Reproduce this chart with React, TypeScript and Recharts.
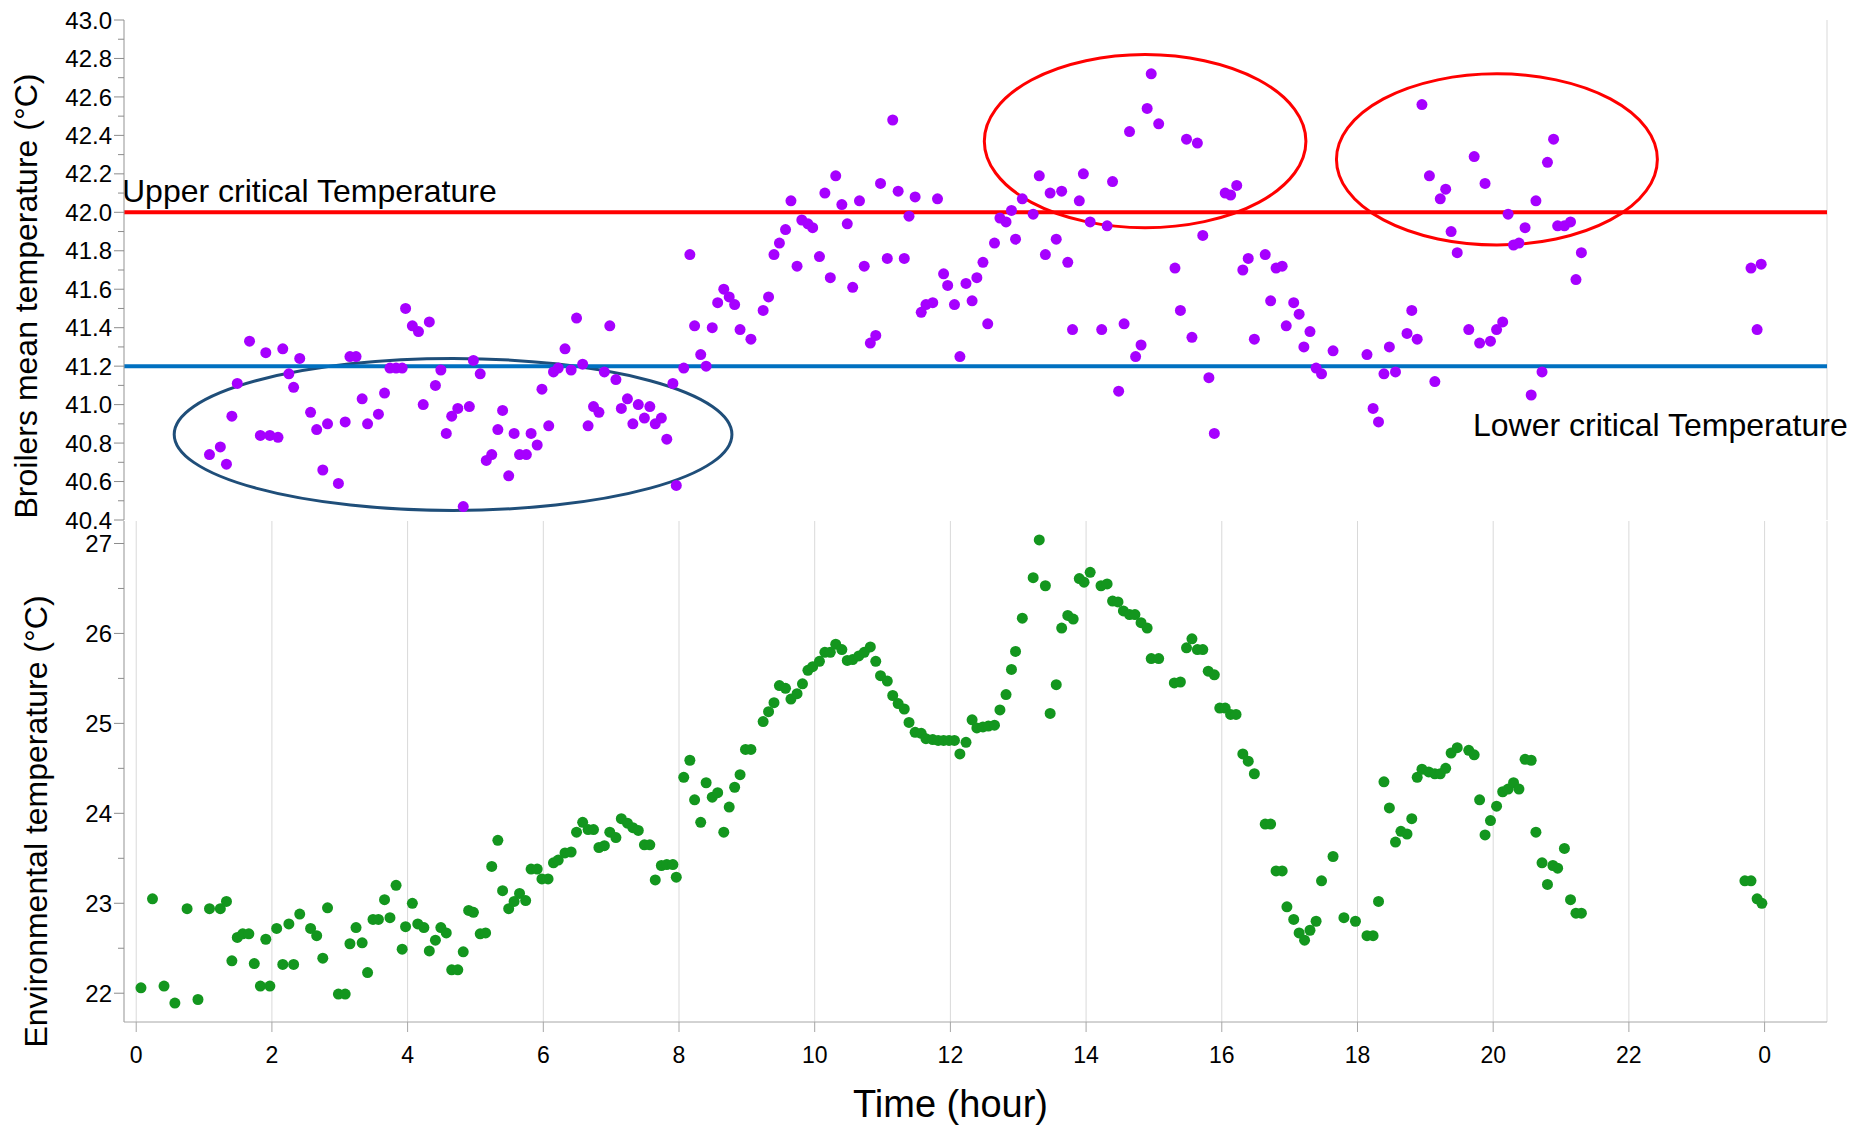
import React from 'react';
import {
  ScatterChart,
  Scatter,
  XAxis,
  YAxis,
  CartesianGrid,
  ReferenceLine,
  ReferenceArea,
} from 'recharts';

// broiler mean temperature, [hour, °C]
const broilerPoints: [number, number][] = [
  [1.08, 40.74], [1.24, 40.78], [1.33, 40.69], [1.41, 40.94], [1.49, 41.11], [1.67, 41.33], [1.83, 40.84], [1.91, 41.27],
  [1.97, 40.84], [2.09, 40.83], [2.16, 41.29], [2.25, 41.16], [2.32, 41.09], [2.41, 41.24], [2.57, 40.96], [2.66, 40.87],
  [2.75, 40.66], [2.82, 40.9], [2.98, 40.59], [3.08, 40.91], [3.15, 41.25], [3.24, 41.25], [3.33, 41.03], [3.41, 40.9],
  [3.57, 40.95], [3.66, 41.06], [3.74, 41.19], [3.83, 41.19], [3.92, 41.19], [3.97, 41.5], [4.07, 41.41], [4.16, 41.38],
  [4.23, 41.0], [4.32, 41.43], [4.41, 41.1], [4.49, 41.18], [4.57, 40.85], [4.65, 40.94], [4.74, 40.98], [4.82, 40.47],
  [4.91, 40.99], [4.97, 41.23], [5.07, 41.16], [5.16, 40.71], [5.24, 40.74], [5.33, 40.87], [5.4, 40.97], [5.49, 40.63],
  [5.57, 40.85], [5.65, 40.74], [5.75, 40.74], [5.82, 40.85], [5.91, 40.79], [5.98, 41.08], [6.08, 40.89], [6.15, 41.17],
  [6.22, 41.19], [6.32, 41.29], [6.41, 41.18], [6.49, 41.45], [6.58, 41.21], [6.66, 40.89], [6.74, 40.99], [6.82, 40.96],
  [6.9, 41.17], [6.98, 41.41], [7.07, 41.13], [7.15, 40.98], [7.24, 41.03], [7.32, 40.9], [7.4, 41.0], [7.49, 40.93],
  [7.57, 40.99], [7.65, 40.9], [7.74, 40.93], [7.82, 40.82], [7.91, 41.11], [7.96, 40.58], [8.07, 41.19], [8.16, 41.78],
  [8.23, 41.41], [8.32, 41.26], [8.4, 41.2], [8.49, 41.4], [8.57, 41.53], [8.66, 41.6], [8.74, 41.56], [8.82, 41.52],
  [8.9, 41.39], [9.06, 41.34], [9.24, 41.49], [9.32, 41.56], [9.4, 41.78], [9.48, 41.84], [9.57, 41.91], [9.65, 42.06],
  [9.74, 41.72], [9.81, 41.96], [9.9, 41.94], [9.97, 41.92], [10.07, 41.77], [10.15, 42.1], [10.23, 41.66], [10.31, 42.19],
  [10.4, 42.04], [10.48, 41.94], [10.56, 41.61], [10.66, 42.06], [10.73, 41.72], [10.82, 41.32], [10.9, 41.36], [10.97, 42.15],
  [11.07, 41.76], [11.15, 42.48], [11.23, 42.11], [11.32, 41.76], [11.39, 41.98], [11.48, 42.08], [11.57, 41.48], [11.64, 41.52],
  [11.74, 41.53], [11.81, 42.07], [11.9, 41.68], [11.96, 41.62], [12.06, 41.52], [12.14, 41.25], [12.23, 41.63], [12.32, 41.54],
  [12.39, 41.66], [12.48, 41.74], [12.55, 41.42], [12.65, 41.84], [12.73, 41.97], [12.82, 41.95], [12.9, 42.01], [12.96, 41.86],
  [13.06, 42.07], [13.22, 41.99], [13.31, 42.19], [13.4, 41.78], [13.47, 42.1], [13.56, 41.86], [13.64, 42.11], [13.73, 41.74],
  [13.8, 41.39], [13.9, 42.06], [13.96, 42.2], [14.06, 41.95], [14.23, 41.39], [14.31, 41.93], [14.39, 42.16], [14.48, 41.07],
  [14.56, 41.42], [14.64, 42.42], [14.73, 41.25], [14.81, 41.31], [14.9, 42.54], [14.96, 42.72], [15.07, 42.46], [15.31, 41.71],
  [15.39, 41.49], [15.48, 42.38], [15.56, 41.35], [15.64, 42.36], [15.72, 41.88], [15.81, 41.14], [15.89, 40.85], [16.05, 42.1],
  [16.13, 42.09], [16.22, 42.14], [16.31, 41.7], [16.39, 41.76], [16.48, 41.34], [16.64, 41.78], [16.72, 41.54], [16.8, 41.71],
  [16.89, 41.72], [16.95, 41.41], [17.06, 41.53], [17.14, 41.47], [17.21, 41.3], [17.3, 41.38], [17.39, 41.19], [17.47, 41.16],
  [17.64, 41.28], [18.14, 41.26], [18.23, 40.98], [18.31, 40.91], [18.39, 41.16], [18.47, 41.3], [18.56, 41.17], [18.73, 41.37],
  [18.8, 41.49], [18.88, 41.34], [18.95, 42.56], [19.06, 42.19], [19.14, 41.12], [19.22, 42.07], [19.3, 42.12], [19.38, 41.9],
  [19.47, 41.79], [19.64, 41.39], [19.72, 42.29], [19.8, 41.32], [19.88, 42.15], [19.96, 41.33], [20.05, 41.39], [20.14, 41.43],
  [20.22, 41.99], [20.3, 41.83], [20.38, 41.84], [20.47, 41.92], [20.56, 41.05], [20.63, 42.06], [20.72, 41.17], [20.8, 42.26],
  [20.89, 42.38], [20.95, 41.93], [21.05, 41.93], [21.14, 41.95], [21.22, 41.65], [21.3, 41.79], [23.8, 41.71], [23.89, 41.39],
  [23.95, 41.73],
];

// environmental temperature, [hour, °C]
const envPoints: [number, number][] = [
  [0.07, 22.06], [0.24, 23.05], [0.41, 22.08], [0.57, 21.89], [0.75, 22.94], [0.91, 21.93], [1.08, 22.94], [1.24, 22.94],
  [1.33, 23.02], [1.41, 22.36], [1.49, 22.62], [1.57, 22.66], [1.66, 22.66], [1.74, 22.33], [1.83, 22.08], [1.91, 22.6],
  [1.97, 22.08], [2.07, 22.72], [2.16, 22.32], [2.25, 22.77], [2.32, 22.32], [2.41, 22.88], [2.57, 22.72], [2.66, 22.64],
  [2.75, 22.39], [2.82, 22.95], [2.98, 21.99], [3.08, 21.99], [3.15, 22.55], [3.24, 22.73], [3.33, 22.56], [3.41, 22.23],
  [3.49, 22.82], [3.57, 22.82], [3.66, 23.04], [3.74, 22.84], [3.83, 23.2], [3.92, 22.49], [3.97, 22.74], [4.07, 23.0],
  [4.15, 22.77], [4.24, 22.73], [4.32, 22.47], [4.41, 22.59], [4.49, 22.73], [4.57, 22.67], [4.65, 22.26], [4.74, 22.26],
  [4.82, 22.46], [4.9, 22.92], [4.97, 22.9], [5.07, 22.66], [5.15, 22.67], [5.24, 23.41], [5.33, 23.7], [5.4, 23.14],
  [5.49, 22.94], [5.57, 23.02], [5.65, 23.11], [5.74, 23.03], [5.82, 23.38], [5.91, 23.38], [5.98, 23.27], [6.07, 23.27],
  [6.15, 23.45], [6.22, 23.48], [6.32, 23.56], [6.41, 23.57], [6.49, 23.79], [6.58, 23.9], [6.66, 23.82], [6.74, 23.82],
  [6.82, 23.62], [6.9, 23.64], [6.98, 23.79], [7.07, 23.73], [7.15, 23.94], [7.24, 23.89], [7.32, 23.84], [7.4, 23.81],
  [7.49, 23.65], [7.57, 23.65], [7.65, 23.26], [7.74, 23.42], [7.82, 23.43], [7.91, 23.43], [7.96, 23.29], [8.07, 24.4],
  [8.16, 24.59], [8.23, 24.15], [8.32, 23.9], [8.4, 24.34], [8.49, 24.18], [8.57, 24.23], [8.66, 23.79], [8.74, 24.07],
  [8.82, 24.29], [8.9, 24.43], [8.98, 24.71], [9.06, 24.71], [9.24, 25.02], [9.32, 25.13], [9.4, 25.23], [9.48, 25.42],
  [9.57, 25.39], [9.65, 25.27], [9.74, 25.33], [9.82, 25.44], [9.9, 25.59], [9.97, 25.63], [10.07, 25.69], [10.15, 25.79],
  [10.23, 25.79], [10.31, 25.88], [10.4, 25.82], [10.48, 25.7], [10.56, 25.71], [10.65, 25.75], [10.73, 25.79], [10.82, 25.85],
  [10.9, 25.69], [10.97, 25.53], [11.07, 25.47], [11.15, 25.31], [11.23, 25.22], [11.32, 25.16], [11.39, 25.01], [11.48, 24.9],
  [11.57, 24.89], [11.64, 24.83], [11.74, 24.82], [11.82, 24.81], [11.9, 24.81], [11.98, 24.81], [12.06, 24.81], [12.14, 24.66],
  [12.23, 24.79], [12.32, 25.04], [12.39, 24.95], [12.48, 24.96], [12.56, 24.97], [12.65, 24.98], [12.73, 25.15], [12.82, 25.32],
  [12.9, 25.6], [12.96, 25.8], [13.06, 26.17], [13.22, 26.62], [13.31, 27.04], [13.4, 26.53], [13.47, 25.11], [13.56, 25.43],
  [13.64, 26.06], [13.73, 26.2], [13.81, 26.16], [13.9, 26.61], [13.97, 26.57], [14.06, 26.68], [14.22, 26.53], [14.31, 26.55],
  [14.39, 26.36], [14.47, 26.35], [14.55, 26.25], [14.64, 26.21], [14.72, 26.21], [14.81, 26.12], [14.9, 26.06], [14.96, 25.72],
  [15.07, 25.72], [15.3, 25.45], [15.39, 25.46], [15.48, 25.84], [15.56, 25.94], [15.64, 25.82], [15.72, 25.82], [15.8, 25.58],
  [15.89, 25.54], [15.97, 25.17], [16.05, 25.17], [16.13, 25.1], [16.21, 25.1], [16.31, 24.66], [16.39, 24.58], [16.48, 24.44],
  [16.64, 23.88], [16.72, 23.88], [16.8, 23.36], [16.89, 23.36], [16.96, 22.96], [17.06, 22.82], [17.14, 22.67], [17.22, 22.59],
  [17.3, 22.7], [17.39, 22.8], [17.47, 23.25], [17.64, 23.52], [17.8, 22.84], [17.97, 22.8], [18.14, 22.64], [18.23, 22.64],
  [18.31, 23.02], [18.39, 24.35], [18.47, 24.06], [18.56, 23.68], [18.64, 23.8], [18.73, 23.77], [18.8, 23.94], [18.88, 24.4],
  [18.95, 24.49], [19.05, 24.46], [19.14, 24.44], [19.22, 24.44], [19.3, 24.5], [19.38, 24.67], [19.47, 24.73], [19.64, 24.7],
  [19.72, 24.65], [19.8, 24.15], [19.88, 23.76], [19.96, 23.92], [20.05, 24.08], [20.14, 24.24], [20.22, 24.27], [20.3, 24.34],
  [20.38, 24.27], [20.47, 24.6], [20.56, 24.59], [20.63, 23.79], [20.72, 23.45], [20.8, 23.21], [20.88, 23.42], [20.95, 23.39],
  [21.05, 23.61], [21.14, 23.04], [21.22, 22.89], [21.3, 22.89], [23.71, 23.25], [23.8, 23.25], [23.89, 23.05], [23.96, 23.0],
];

const hourTicks = [0, 2, 4, 6, 8, 10, 12, 14, 16, 18, 20, 22, 24];
const broilerTicks = [
  40.4, 40.5, 40.6, 40.7, 40.8, 40.9, 41.0, 41.1, 41.2, 41.3, 41.4, 41.5, 41.6, 41.7,
  41.8, 41.9, 42.0, 42.1, 42.2, 42.3, 42.4, 42.5, 42.6, 42.7, 42.8, 42.9, 43.0,
];
const envTicks = [22, 22.5, 23, 23.5, 24, 24.5, 25, 25.5, 26, 26.5, 27];

const upperCritical = 42.0;
const lowerCritical = 41.2;

// hand-drawn highlight ellipses (bounding boxes in data units)
const highlights = [
  { x1: 0.56, x2: 8.78, y1: 40.45, y2: 41.24, color: '#1f4e79' },
  { x1: 12.5, x2: 17.24, y1: 41.92, y2: 42.82, color: '#ff0000' },
  { x1: 17.69, x2: 22.42, y1: 41.83, y2: 42.72, color: '#ff0000' },
];

const X_DOMAIN: [number, number] = [-0.18, 24.92];
const FONT = '"Liberation Sans", Arial, sans-serif';
const AXIS = '#a6a6a6';

const broilerData = broilerPoints.map(([h, t]) => ({ h, t }));
const envData = envPoints.map(([h, t]) => ({ h, t }));

const makeYTick = (step: number, digits: number) => (props: any) => {
  const { x, y, payload } = props;
  const v = payload.value;
  const major = Math.abs(v / step - Math.round(v / step)) < 1e-6;
  const ax = x + 12;
  return (
    <g>
      <line x1={ax - (major ? 10 : 6)} x2={ax} y1={y} y2={y} stroke="#8c8c8c" />
      {major && (
        <text x={x} y={y} dy="0.36em" textAnchor="end" fontSize={24} fontFamily={FONT} fill="#000">
          {v.toFixed(digits)}
        </text>
      )}
    </g>
  );
};

const yTitle = (text: string, dx: number, dy: number) => (props: any) => {
  const vb = props.viewBox;
  return (
    <text
      transform={`translate(${vb.x + dx}, ${vb.y + vb.height / 2 + dy}) rotate(-90)`}
      textAnchor="middle"
      fontSize={32}
      fontFamily={FONT}
      fill="#000"
    >
      {text}
    </text>
  );
};

const dot = (color: string) => (p: any) => <circle cx={p.cx} cy={p.cy} r={5.5} fill={color} />;

export default function App() {
  return (
    <div style={{ position: 'absolute', left: 0, top: 0, width: 1854, height: 1125, background: '#fff' }}>
      {/* top panel is 20px taller than its plot so the 40.4 label is not clipped */}
      <ScatterChart width={1854} height={541} margin={{ top: 20, right: 27, bottom: 20, left: 0 }}>
        <CartesianGrid horizontal={false} stroke="#d9d9d9" />
        <XAxis
          type="number"
          dataKey="h"
          domain={X_DOMAIN}
          ticks={hourTicks}
          tick={false}
          tickLine={false}
          axisLine={false}
          height={1}
        />
        <YAxis
          type="number"
          dataKey="t"
          domain={[40.4, 43]}
          ticks={broilerTicks}
          interval={0}
          width={124}
          tickSize={10}
          tickMargin={2}
          tickLine={false}
          axisLine={{ stroke: AXIS }}
          tick={makeYTick(0.2, 1)}
          label={yTitle('Broilers mean temperature (°C)', 37, 26)}
        />
        <ReferenceArea fill="none" stroke="#bfbfbf" ifOverflow="visible" />
        <ReferenceLine
          y={upperCritical}
          stroke="#ff0000"
          strokeWidth={4}
          label={(p: any) => (
            <text x={p.viewBox.x - 2} y={p.viewBox.y - 10} fontSize={32} fontFamily={FONT} fill="#000">
              Upper critical Temperature
            </text>
          )}
        />
        <ReferenceLine
          y={lowerCritical}
          stroke="#0070c0"
          strokeWidth={4}
          label={(p: any) => (
            <text x={p.viewBox.x + p.viewBox.width - 354} y={p.viewBox.y + 70} fontSize={32} fontFamily={FONT} fill="#000">
              Lower critical Temperature
            </text>
          )}
        />
        <Scatter data={broilerData} fill="#a600ff" shape={dot('#a600ff')} isAnimationActive={false} />
        {highlights.map((e, i) => (
          <ReferenceArea
            key={i}
            x1={e.x1}
            x2={e.x2}
            y1={e.y1}
            y2={e.y2}
            ifOverflow="visible"
            shape={(p: any) => (
              <ellipse
                cx={p.x + p.width / 2}
                cy={p.y + p.height / 2}
                rx={Math.abs(p.width) / 2}
                ry={Math.abs(p.height) / 2}
                fill="none"
                stroke={e.color}
                strokeWidth={3}
              />
            )}
          />
        ))}
      </ScatterChart>

      <div style={{ marginTop: -20 }}>
        <ScatterChart width={1854} height={604} margin={{ top: 0, right: 27, bottom: 0, left: 0 }}>
          <CartesianGrid horizontal={false} stroke="#d9d9d9" />
          <XAxis
            type="number"
            dataKey="h"
            domain={X_DOMAIN}
            ticks={hourTicks}
            interval={0}
            height={103}
            tickSize={10}
            tickMargin={15}
            axisLine={{ stroke: AXIS }}
            tickLine={{ stroke: AXIS }}
            tick={{ fontSize: 23, fill: '#000', fontFamily: FONT }}
            tickFormatter={(v: number) => String(v % 24)}
            label={(p: any) => (
              <text
                x={p.viewBox.x + p.viewBox.width / 2 - 25}
                y={p.viewBox.y + p.viewBox.height - 8}
                textAnchor="middle"
                fontSize={38}
                fontFamily={FONT}
                fill="#000"
              >
                Time (hour)
              </text>
            )}
          />
          <YAxis
            type="number"
            dataKey="t"
            domain={[21.68, 27.25]}
            ticks={envTicks}
            interval={0}
            width={124}
            tickSize={10}
            tickMargin={2}
            tickLine={false}
            axisLine={{ stroke: AXIS }}
            tick={makeYTick(1, 0)}
            label={yTitle('Environmental temperature (°C)', 47, 50)}
          />
          <ReferenceArea fill="none" stroke="#bfbfbf" ifOverflow="visible" />
          <Scatter data={envData} fill="#13961e" shape={dot('#13961e')} isAnimationActive={false} />
        </ScatterChart>
      </div>
    </div>
  );
}
